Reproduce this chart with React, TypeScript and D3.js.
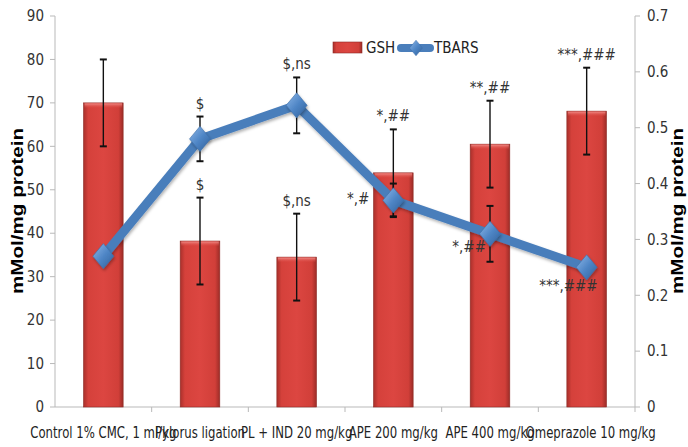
import React from "react";
import * as d3 from "d3";

// Groups, GSH (left axis) and TBARS (right axis) with their SEM values
const categories = [
  "Control 1% CMC, 1 ml/kg",
  "Pylorus ligation",
  "PL + IND 20 mg/kg",
  "APE 200 mg/kg",
  "APE 400 mg/kg",
  "Omeprazole 10 mg/kg",
];
const gsh = [70, 38.2, 34.5, 53.9, 60.5, 68.1];
const gshErr = [10, 10, 10, 10, 10, 10];
const tbars = [0.27, 0.48, 0.54, 0.37, 0.31, 0.25];
const tbarsErr = [0.007, 0.04, 0.05, 0.03, 0.05, 0.007];
const gshNotes = ["", "$", "$,ns", "*,##", "**,##", "***,###"];
const tbarsNotes = ["", "$", "$,ns", "*,#", "*,##", "***,###"];
const leftTicks = [0, 10, 20, 30, 40, 50, 60, 70, 80, 90];
const rightTicks = [0, 0.1, 0.2, 0.3, 0.4, 0.5, 0.6, 0.7];

const W = 688;
const H = 447;
const M = { left: 55, right: 53, top: 16, bottom: 40 };
const FONT = "'Liberation Sans Narrow', 'DejaVu Sans Condensed', Roboto, sans-serif";
const BOLD = "'Liberation Sans', Arial, sans-serif";

// note placement for TBARS markers: [anchor, dx, dy] relative to the marker
const tbarsNotePlace: [string, number, number][] = [
  ["middle", 0, 0],
  ["middle", 0, -8],
  ["middle", 0, -8],
  ["end", -24, 4],
  ["end", -4, 18],
  ["end", 11, 24],
];

export default function App() {
  const x = d3
    .scaleBand<string>()
    .domain(categories)
    .range([M.left, W - M.right])
    .padding(0);
  const yL = d3.scaleLinear().domain([0, 90]).range([H - M.bottom, M.top]);
  const yR = d3.scaleLinear().domain([0, 0.7]).range([H - M.bottom, M.top]);
  const bw = x.bandwidth();
  const barW = bw * 0.41;
  const cx = (c: string) => (x(c) as number) + bw / 2;

  const line = d3
    .line<number>()
    .x((_, i) => cx(categories[i]))
    .y((d) => yR(d));

  const axisColor = "#b9b9b9";
  const base = yL(0);

  const diamond = (px: number, py: number, s: number) =>
    `M${px},${py - s * 1.2} L${px + s},${py} L${px},${py + s * 1.2} L${px - s},${py} Z`;

  const errBar = (px: number, top: number, bot: number, key: string) => (
    <g key={key} stroke="#111" strokeWidth={1.4}>
      <line x1={px} x2={px} y1={top} y2={bot} />
      <line x1={px - 3.5} x2={px + 3.5} y1={top} y2={top} strokeWidth={2} />
      <line x1={px - 3.5} x2={px + 3.5} y1={bot} y2={bot} strokeWidth={2} />
    </g>
  );

  return (
    <div style={{ position: "fixed", left: 0, top: 0 }}>
      <svg width={W} height={H} style={{ display: "block", background: "#fff" }}>
        <defs>
          <linearGradient id="barGrad" x1="0" x2="1" y1="0" y2="0">
            <stop offset="0" stopColor="#a9302b" />
            <stop offset="0.12" stopColor="#d5413b" />
            <stop offset="0.5" stopColor="#dc4641" />
            <stop offset="0.88" stopColor="#d13f39" />
            <stop offset="1" stopColor="#9c2c27" />
          </linearGradient>
          <linearGradient id="barTop" x1="0" x2="0" y1="0" y2="1">
            <stop offset="0" stopColor="#f08a85" />
            <stop offset="1" stopColor="#dc4641" stopOpacity="0" />
          </linearGradient>
          <linearGradient id="diaGrad" x1="0" x2="1" y1="0" y2="1">
            <stop offset="0" stopColor="#8fb8e8" />
            <stop offset="0.5" stopColor="#4f86c6" />
            <stop offset="1" stopColor="#2f5f99" />
          </linearGradient>
          <filter id="shadow" x="-20%" y="-20%" width="140%" height="140%">
            <feDropShadow dx="1" dy="2" stdDeviation="1.5" floodColor="#000" floodOpacity="0.3" />
          </filter>
        </defs>

        {/* left axis */}
        <line x1={M.left} x2={M.left} y1={yL(90)} y2={base} stroke={axisColor} />
        {leftTicks.map((t) => (
          <g key={"l" + t}>
            <line x1={M.left - 5} x2={M.left} y1={yL(t)} y2={yL(t)} stroke={axisColor} />
            <text x={M.left - 11} y={yL(t)} dy="0.35em" textAnchor="end" fontSize={15} fontFamily={FONT} fill="#333">
              {t}
            </text>
          </g>
        ))}

        {/* right axis */}
        <line x1={W - M.right} x2={W - M.right} y1={yR(0.7)} y2={base} stroke={axisColor} />
        {rightTicks.map((t) => (
          <g key={"r" + t}>
            <line x1={W - M.right} x2={W - M.right + 5} y1={yR(t)} y2={yR(t)} stroke={axisColor} />
            <text x={W - M.right + 12} y={yR(t)} dy="0.35em" textAnchor="start" fontSize={15} fontFamily={FONT} fill="#333">
              {t === 0 ? "0" : t.toFixed(1)}
            </text>
          </g>
        ))}

        {/* bottom axis */}
        <line x1={M.left} x2={W - M.right} y1={base} y2={base} stroke={axisColor} />
        {categories.map((c, i) => (
          <line key={"bt" + i} x1={(x(c) as number) + bw} x2={(x(c) as number) + bw} y1={base} y2={base + 5} stroke={axisColor} />
        ))}
        {categories.map((c, i) => (
          <text
            key={"cl" + c}
            transform={`translate(${cx(c) + (i === 5 ? 4 : 0)},${base + 31}) scale(0.84,1)`}
            textAnchor="middle"
            fontSize={15.5}
            fontFamily={FONT}
            fill="#222"
          >
            {c}
          </text>
        ))}

        {/* axis titles */}
        <text
          transform={`translate(23,211) rotate(-90)`}
          textAnchor="middle"
          fontSize={17}
          fontWeight="bold"
          fontFamily={BOLD}
          textLength={166}
          lengthAdjust="spacingAndGlyphs"
          fill="#000"
        >
          mMol/mg protein
        </text>
        <text
          transform={`translate(683,211) rotate(-90)`}
          textAnchor="middle"
          fontSize={17}
          fontWeight="bold"
          fontFamily={BOLD}
          textLength={166}
          lengthAdjust="spacingAndGlyphs"
          fill="#000"
        >
          mMol/mg protein
        </text>

        {/* GSH bars */}
        {categories.map((c, i) => {
          const bx = cx(c) - barW / 2;
          const by = yL(gsh[i]);
          return (
            <g key={"bar" + i}>
              <rect x={bx} y={by} width={barW} height={base - by} fill="url(#barGrad)" stroke="#8e2a25" strokeWidth={0.6} />
              <rect x={bx + 1} y={by + 0.5} width={barW - 2} height={5} fill="url(#barTop)" />
            </g>
          );
        })}

        {/* GSH error bars and notes */}
        {categories.map((c, i) =>
          errBar(cx(c), yL(gsh[i] + gshErr[i]), yL(gsh[i] - gshErr[i]), "ge" + i)
        )}
        {categories.map((c, i) => (
          <text key={"gn" + i} x={cx(c)} y={yL(gsh[i] + gshErr[i]) - 8} textAnchor="middle" fontSize={15} fontFamily={FONT} fill="#333">
            {gshNotes[i]}
          </text>
        ))}

        {/* TBARS line */}
        <path d={line(tbars) || ""} fill="none" stroke="#4a7ebb" strokeWidth={9} strokeLinejoin="round" filter="url(#shadow)" />
        {categories.map((c, i) =>
          errBar(cx(c), yR(tbars[i] + tbarsErr[i]), yR(tbars[i] - tbarsErr[i]), "te" + i)
        )}
        {categories.map((c, i) => (
          <path key={"dm" + i} d={diamond(cx(c), yR(tbars[i]), 10.5)} fill="url(#diaGrad)" stroke="#3e6fa8" strokeWidth={0.6} filter="url(#shadow)" />
        ))}
        {categories.map((c, i) => {
          const [anchor, dx, dy] = tbarsNotePlace[i];
          const py = anchor === "middle" ? yR(tbars[i] + tbarsErr[i]) : yR(tbars[i]);
          return (
            <text key={"tn" + i} x={cx(c) + dx} y={py + dy} textAnchor={anchor} fontSize={15} fontFamily={FONT} fill="#333">
              {tbarsNotes[i]}
            </text>
          );
        })}

        {/* legend */}
        <g>
          <rect x={333} y={42} width={29} height={11} fill="url(#barGrad)" stroke="#8e2a25" strokeWidth={0.6} />
          <text x={366} y={48} dy="0.35em" fontSize={15} fontFamily={FONT} fill="#222">GSH</text>
          <line x1={401} x2={430} y1={48} y2={48} stroke="#4a7ebb" strokeWidth={8} strokeLinecap="round" />
          <path d={diamond(416, 48, 6.5)} fill="url(#diaGrad)" stroke="#3e6fa8" strokeWidth={0.5} />
          <text x={434} y={48} dy="0.35em" fontSize={15} fontFamily={FONT} fill="#222">TBARS</text>
        </g>
      </svg>
    </div>
  );
}
